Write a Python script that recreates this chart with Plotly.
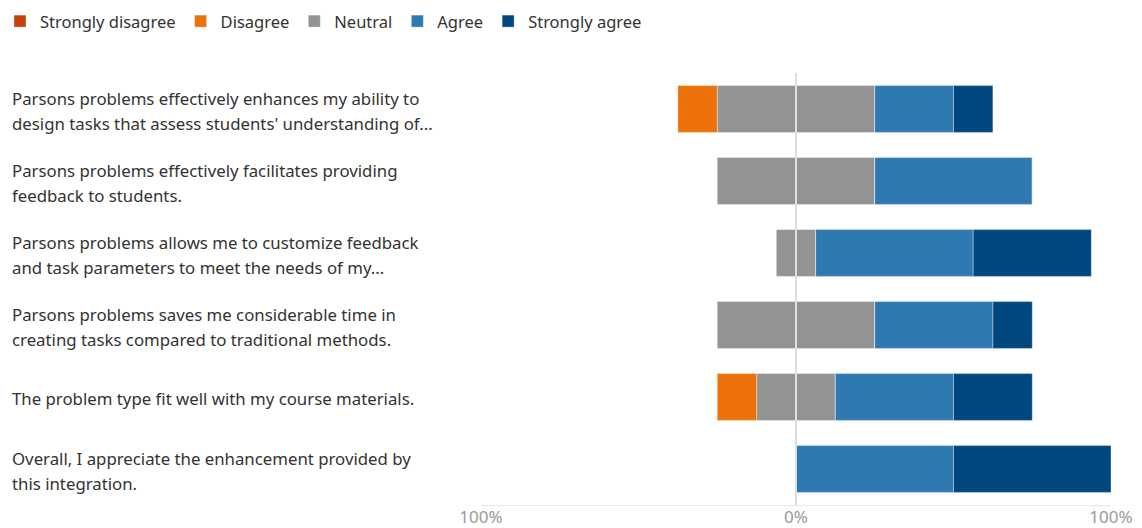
import plotly.graph_objects as go

# Survey statements (wrapped / truncated as displayed)
statements = [
    ["Parsons problems effectively enhances my ability to",
     "design tasks that assess students' understanding of..."],
    ["Parsons problems effectively facilitates providing",
     "feedback to students."],
    ["Parsons problems allows me to customize feedback",
     "and task parameters to meet the needs of my..."],
    ["Parsons problems saves me considerable time in",
     "creating tasks compared to traditional methods."],
    ["The problem type fit well with my course materials."],
    ["Overall, I appreciate the enhancement provided by",
     "this integration."],
]
categories = [f"Q{i + 1}" for i in range(len(statements))]

# Share of responses per statement (%)
strongly_disagree = [0, 0, 0, 0, 0, 0]
disagree = [12.5, 0, 0, 0, 12.5, 0]
neutral = [50, 50, 12.5, 50, 25, 0]
agree = [25, 50, 50, 37.5, 37.5, 50]
strongly_agree = [12.5, 0, 37.5, 12.5, 25, 50]

tick_vals = [-100, 0, 100]
tick_text = ["100%", "0%", "100%"]

colors = {
    "Strongly disagree": "#c4410c",
    "Disagree": "#ec7108",
    "Neutral": "#939393",
    "Agree": "#2e79b1",
    "Strongly agree": "#01477f",
}

FONT = "Noto Sans"
edge = dict(color="rgba(255,255,255,0.35)", width=1)

fig = go.Figure()


def add(name, values, sign, show, rank):
    fig.add_trace(go.Bar(
        y=categories,
        x=[sign * v for v in values],
        name=name,
        orientation="h",
        marker=dict(color=colors[name], line=edge),
        showlegend=show,
        legendrank=rank,
        legendgroup=name,
        hoverinfo="skip",
    ))


half_neutral = [v / 2 for v in neutral]
# stacking order outward from zero on each side
add("Neutral", half_neutral, -1, True, 3)
add("Neutral", half_neutral, 1, False, 3)
add("Disagree", disagree, -1, True, 2)
add("Strongly disagree", strongly_disagree, -1, True, 1)
add("Agree", agree, 1, True, 4)
add("Strongly agree", strongly_agree, 1, True, 5)

# statement labels, left aligned in the left margin
label_x = (10 - 481) / 630
line_gap = 25
for cat, lines in zip(categories, statements):
    n = len(lines)
    for i, line in enumerate(lines):
        shift = ((n - 1) / 2 - i) * line_gap
        fig.add_annotation(
            x=label_x, xref="paper", y=cat, yref="y",
            text=line, showarrow=False,
            xanchor="left", yanchor="middle", yshift=shift - 1.5,
            font=dict(family=FONT, size=16.8, color="#333333"),
        )

# zero line drawn over the bars
fig.add_shape(type="line", xref="x", yref="paper", x0=0, x1=0, y0=0, y1=1,
              line=dict(color="#dedede", width=2), layer="above")

fig.update_layout(
    width=1142, height=528,
    margin=dict(l=481, r=31, t=73, b=23, autoexpand=False),
    barmode="relative",
    bargap=0.35,
    plot_bgcolor="white",
    paper_bgcolor="white",
    font=dict(family=FONT, size=16, color="#333333"),
    legend=dict(
        orientation="h",
        x=-481 / 630, y=1.16, xanchor="left", yanchor="top",
        font=dict(family=FONT, size=16.5, color="#333333"),
        itemwidth=30, traceorder="normal",
    ),
    xaxis=dict(
        range=[-100, 100], tickvals=tick_vals, ticktext=tick_text,
        showgrid=True, gridcolor="#e6e6e6", gridwidth=1,
        zeroline=False, showline=True, linecolor="#e6e6e6", mirror=False,
        tickfont=dict(family=FONT, size=17, color="#9a9a9a"),
        ticks="", ticklabelstandoff=-3, fixedrange=True,
    ),
    yaxis=dict(
        categoryorder="array", categoryarray=categories,
        autorange="reversed", showticklabels=False,
        showgrid=False, zeroline=False, fixedrange=True,
    ),
)

fig.write_html("out.html")
